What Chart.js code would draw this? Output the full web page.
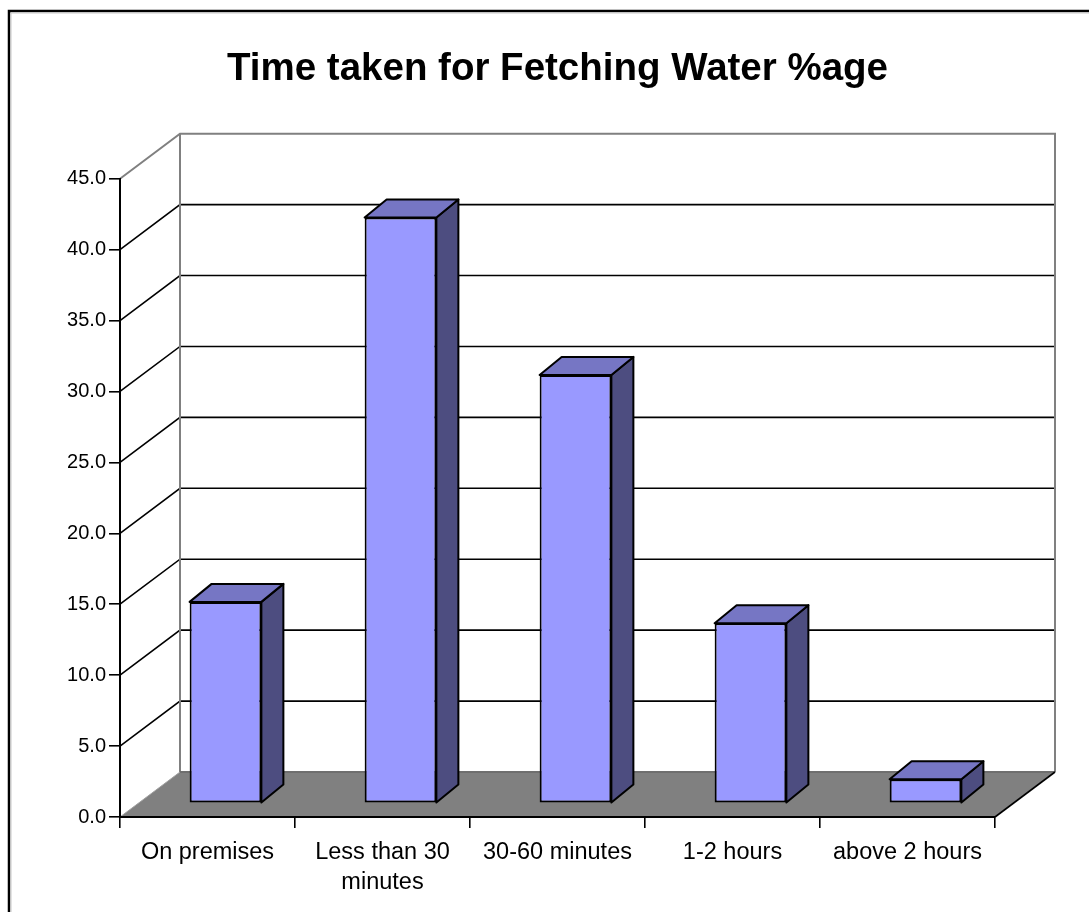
<!DOCTYPE html>
<html>
<head>
<meta charset="utf-8">
<title>Time taken for Fetching Water %age</title>
<script src="https://cdn.jsdelivr.net/npm/chart.js@4.4.1/dist/chart.umd.min.js"></script>
<style>
  html, body { margin: 0; padding: 0; background: #fff; }
  #chart { display: block; }
</style>
</head>
<body>
<canvas id="chart" width="1089" height="912"></canvas>
<script>
// ======================
// 데이터
// ======================
const categories = [
  "On premises",
  ["Less than 30", "minutes"],
  "30-60 minutes",
  "1-2 hours",
  "above 2 hours"
];
const percentages = [14.2, 41.3, 30.2, 12.7, 1.7];
const yMin = 0;
const yMax = 45;
const yStep = 5;

// ======================
// 3D 모양 (Excel 스타일)
// ======================
const DEPTH = { x: 60, y: -45 };       // 뒷벽까지 깊이
const BAR_SHIFT = { x: 18, y: -13.7 }; // 막대 앞면 위치
const BAR_DEPTH = { x: 22, y: -18 };   // 막대 두께

const COLOR_FRONT = "#9999FF";
const COLOR_TOP = "#7676C4";
const COLOR_SIDE = "#4D4D80";
const COLOR_WALL = "#808080";

function line(ctx, pts, color, width) {
  ctx.beginPath();
  ctx.moveTo(pts[0][0], pts[0][1]);
  for (let i = 1; i < pts.length; i++) ctx.lineTo(pts[i][0], pts[i][1]);
  ctx.strokeStyle = color;
  ctx.lineWidth = width;
  ctx.stroke();
}

// 벽, 바닥, 눈금선
const wallPlugin = {
  id: "wall3d",
  beforeDraw(chart) {
    const { ctx, chartArea: a, scales: { y } } = chart;
    const y0 = y.getPixelForValue(yMin);
    const yTop = y.getPixelForValue(yMax);
    ctx.save();

    // 바깥 테두리
    line(ctx, [[9, 912], [9, 11], [1089, 11]], "#000", 2.5);
    line(ctx, [[11, 912], [11, 13], [1089, 13]], "#c8c8c8", 1);

    // 바닥
    ctx.beginPath();
    ctx.moveTo(a.left, y0);
    ctx.lineTo(a.right, y0);
    ctx.lineTo(a.right + DEPTH.x, y0 + DEPTH.y);
    ctx.lineTo(a.left + DEPTH.x, y0 + DEPTH.y);
    ctx.closePath();
    ctx.fillStyle = COLOR_WALL;
    ctx.fill();

    // 벽 눈금선
    y.ticks.forEach(t => {
      if (t.value === yMin || t.value === yMax) return;
      const py = y.getPixelForValue(t.value);
      line(ctx, [[a.left, py], [a.left + DEPTH.x, py + DEPTH.y], [a.right + DEPTH.x, py + DEPTH.y]], "#000", 1.6);
    });

    // 벽 테두리
    line(ctx, [[a.left, yTop], [a.left + DEPTH.x, yTop + DEPTH.y], [a.right + DEPTH.x, yTop + DEPTH.y], [a.right + DEPTH.x, y0 + DEPTH.y]], COLOR_WALL, 2);
    line(ctx, [[a.left + DEPTH.x, yTop + DEPTH.y], [a.left + DEPTH.x, y0 + DEPTH.y], [a.right + DEPTH.x, y0 + DEPTH.y]], COLOR_WALL, 2);
    line(ctx, [[a.left + DEPTH.x, y0 + DEPTH.y], [a.right + DEPTH.x, y0 + DEPTH.y]], "#6a6a6a", 1.5);
    line(ctx, [[a.left, y0], [a.left + DEPTH.x, y0 + DEPTH.y]], "#a0a0a0", 1);
    line(ctx, [[a.right, y0], [a.right + DEPTH.x, y0 + DEPTH.y]], "#000", 1.6);

    ctx.restore();
  }
};

// 막대 윗면/옆면
const barPlugin = {
  id: "bar3d",
  beforeDatasetDraw(chart) {
    chart.ctx.save();
    chart.ctx.translate(BAR_SHIFT.x, BAR_SHIFT.y);
  },
  afterDatasetDraw(chart, args) {
    const ctx = chart.ctx;
    args.meta.data.forEach(bar => {
      const { x, y, base, width } = bar.getProps(["x", "y", "base", "width"], true);
      const l = x - width / 2, r = x + width / 2;
      const dx = BAR_DEPTH.x, dy = BAR_DEPTH.y;
      ctx.lineJoin = "round";

      // 옆면
      ctx.beginPath();
      ctx.moveTo(r, y);
      ctx.lineTo(r + dx, y + dy);
      ctx.lineTo(r + dx, base + dy);
      ctx.lineTo(r, base);
      ctx.closePath();
      ctx.fillStyle = COLOR_SIDE;
      ctx.fill();
      ctx.strokeStyle = "#000";
      ctx.lineWidth = 2;
      ctx.stroke();

      // 윗면
      ctx.beginPath();
      ctx.moveTo(l, y);
      ctx.lineTo(l + dx, y + dy);
      ctx.lineTo(r + dx, y + dy);
      ctx.lineTo(r, y);
      ctx.closePath();
      ctx.fillStyle = COLOR_TOP;
      ctx.fill();
      ctx.stroke();
    });
    ctx.restore();
  }
};

// ======================
// 차트
// ======================
new Chart(document.getElementById("chart"), {
  type: "bar",
  data: {
    labels: categories,
    datasets: [{
      label: "%age",
      data: percentages,
      backgroundColor: COLOR_FRONT,
      borderColor: "#000",
      borderWidth: 2,
      borderSkipped: false,
      categoryPercentage: 1,
      barPercentage: 0.41,
      clip: false
    }]
  },
  options: {
    responsive: false,
    animation: false,
    layout: { padding: { left: 0, right: 94, top: 0, bottom: 0 } },
    plugins: {
      legend: { display: false },
      tooltip: { enabled: false },
      title: {
        display: true,
        fullSize: false, // 플롯 영역 가운데 정렬
        text: "Time taken for Fetching Water %age",
        color: "#000",
        font: { family: "'Liberation Sans', Arial, sans-serif", size: 38.5, weight: "bold", lineHeight: 1.2 },
        padding: { top: 46, bottom: 86.5 }
      }
    },
    scales: {
      x: {
        grid: { display: true, drawOnChartArea: false, drawTicks: true, tickLength: 11, color: "#000", lineWidth: 1.6, offset: true },
        border: { display: true, color: "#000", width: 2 },
        ticks: {
          color: "#000",
          padding: 10,
          maxRotation: 0,
          autoSkip: false,
          font: { family: "'Liberation Sans', Arial, sans-serif", size: 23.5, lineHeight: 1.25 }
        },
        afterFit(scale) { scale.height = 95; }
      },
      y: {
        min: yMin,
        max: yMax,
        grid: { display: true, drawOnChartArea: false, drawTicks: true, tickLength: 11, color: "#000", lineWidth: 1.6 },
        border: { display: true, color: "#000", width: 2 },
        ticks: {
          stepSize: yStep,
          color: "#000",
          padding: 3,
          font: { family: "'Liberation Sans', Arial, sans-serif", size: 20 },
          callback: v => Number(v).toFixed(1)
        },
        afterFit(scale) { scale.width = 120; }
      }
    }
  },
  plugins: [wallPlugin, barPlugin]
});
</script>
</body>
</html>
